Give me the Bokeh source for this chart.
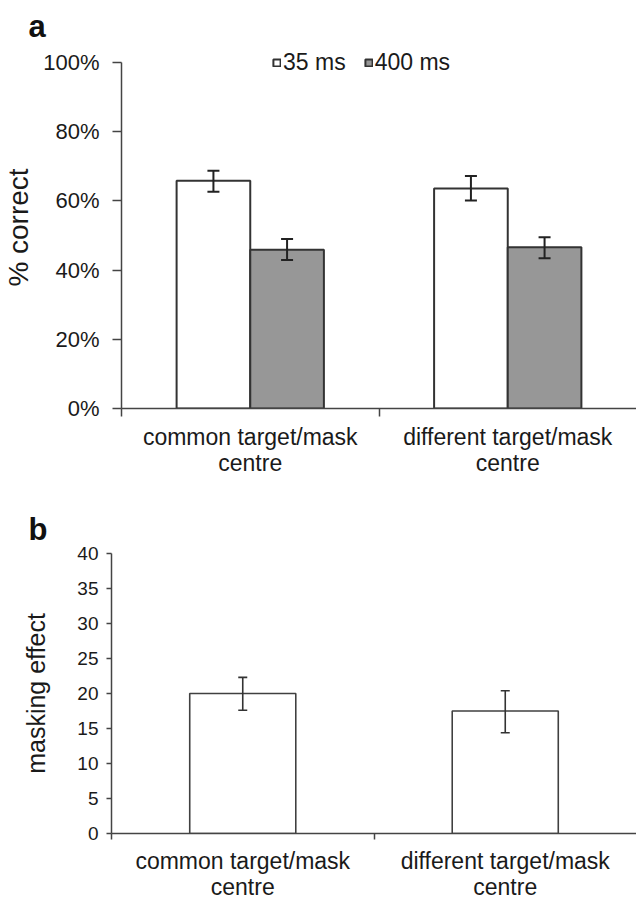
from bokeh.plotting import figure
from bokeh.models import (Range1d, FixedTicker, PrintfTickFormatter, Whisker, TeeHead,
                          ColumnDataSource, LinearAxis)
from bokeh.embed import file_html
from bokeh.resources import INLINE

# ---------------- data ----------------
categories = ["common target/mask\ncentre", "different target/mask\ncentre"]
series = ["35 ms", "400 ms"]

pct_35 = [65.8, 63.6]
pct_35_lo = [62.6, 60.1]
pct_35_hi = [68.7, 67.2]
pct_400 = [45.9, 46.6]
pct_400_lo = [42.9, 43.4]
pct_400_hi = [49.0, 49.5]
pct_ticks = [0, 20, 40, 60, 80, 100]

mask_effect = [20.0, 17.5]
mask_lo = [17.6, 14.4]
mask_hi = [22.3, 20.4]
mask_ticks = [0, 5, 10, 15, 20, 25, 30, 35, 40]

FONT = "Liberation Sans"
AX = "#444444"
EDGE = "#333333"

centers = [i + 0.5 for i in range(len(categories))]
bounds = [float(i) for i in range(len(categories))]
overrides = {c: lab for c, lab in zip(centers, categories)}


def style_x(ax, tick_out, label_size, standoff):
    ax.axis_line_color = AX
    ax.axis_line_width = 1.5
    ax.major_tick_line_color = None
    ax.major_tick_out = 0
    ax.major_tick_in = 0
    ax.minor_tick_line_color = AX
    ax.minor_tick_line_width = 1.5
    ax.minor_tick_out = tick_out
    ax.minor_tick_in = 0
    ax.major_label_text_font = FONT
    ax.major_label_text_font_size = label_size
    ax.major_label_text_line_height = 1.0
    ax.major_label_text_color = "#1a1a1a"
    ax.major_label_standoff = standoff


def style_y(ax, tick_out, tick_size, label_size, tick_standoff, label_standoff):
    ax.axis_line_color = AX
    ax.axis_line_width = 1.5
    ax.major_tick_line_color = AX
    ax.major_tick_line_width = 1.5
    ax.major_tick_out = tick_out
    ax.major_tick_in = 0
    ax.minor_tick_line_color = None
    ax.major_label_text_font = FONT
    ax.major_label_text_font_size = tick_size
    ax.major_label_text_color = "#1a1a1a"
    ax.major_label_standoff = tick_standoff
    ax.axis_label_text_font = FONT
    ax.axis_label_text_font_size = label_size
    ax.axis_label_text_font_style = "normal"
    ax.axis_label_text_color = "#1a1a1a"
    ax.axis_label_standoff = label_standoff


def style_title(p, text, offset, standoff):
    p.title.text = text
    p.title.align = "left"
    p.title.offset = offset
    p.title.standoff = standoff
    p.title.text_font = FONT
    p.title.text_font_size = "31px"
    p.title.text_font_style = "bold"
    p.title.text_color = "#111111"


# ---------------- panel a ----------------
pa = figure(width=636, height=478, x_range=Range1d(0, 2), y_range=Range1d(0, 104.6),
            output_backend="svg", toolbar_location=None, x_axis_type=None, y_axis_type=None,
            min_border_left=121, min_border_right=0, min_border_top=46, min_border_bottom=67)
pa.outline_line_color = None
pa.xgrid.visible = False
pa.ygrid.visible = False
style_title(pa, "a", -93, 6)

bw = 0.286
src_a = ColumnDataSource(dict(
    x35=[c - bw / 2 for c in centers], x400=[c + bw / 2 for c in centers],
    v35=pct_35, lo35=pct_35_lo, hi35=pct_35_hi,
    v400=pct_400, lo400=pct_400_lo, hi400=pct_400_hi))

pa.vbar(x="x35", top="v35", bottom=0, width=bw, source=src_a, fill_color="white",
        line_color=EDGE, line_width=2, legend_label=series[0])
pa.vbar(x="x400", top="v400", bottom=0, width=bw, source=src_a, fill_color="#979797",
        line_color=EDGE, line_width=2, legend_label=series[1])

for b, lo, hi in (("x35", "lo35", "hi35"), ("x400", "lo400", "hi400")):
    pa.add_layout(Whisker(source=src_a, base=b, lower=lo, upper=hi, line_color="#222222",
                          line_width=2, level="overlay",
                          upper_head=TeeHead(size=12, line_color="#222222", line_width=2),
                          lower_head=TeeHead(size=12, line_color="#222222", line_width=2)))

ya = LinearAxis(ticker=FixedTicker(ticks=pct_ticks), formatter=PrintfTickFormatter(format="%d%%"),
                axis_label="% correct", bounds=(0, 100))
style_y(ya, 9, "22px", "28px", 13, 6)
pa.add_layout(ya, "left")

xa = LinearAxis(ticker=FixedTicker(ticks=centers, minor_ticks=bounds), major_label_overrides=overrides)
style_x(xa, 8, "23px", 7)
pa.add_layout(xa, "below")

lg = pa.legend[0]
lg.orientation = "horizontal"
lg.location = (151, 332)
lg.border_line_color = None
lg.background_fill_alpha = 0
lg.padding = 0
lg.margin = 0
lg.spacing = 18
lg.label_standoff = 2
lg.glyph_width = 9
lg.glyph_height = 9
lg.label_text_font = FONT
lg.label_text_font_size = "23px"
lg.label_text_color = "#1a1a1a"

# ---------------- panel b ----------------
pb = figure(width=636, height=424, x_range=Range1d(0, 2), y_range=Range1d(0, 40),
            output_backend="svg", toolbar_location=None, x_axis_type=None, y_axis_type=None,
            min_border_left=111, min_border_right=0, min_border_top=75, min_border_bottom=63)
pb.outline_line_color = None
pb.xgrid.visible = False
pb.ygrid.visible = False
style_title(pb, "b", -83, 14)

bw_b = 0.404
src_b = ColumnDataSource(dict(x=centers, v=mask_effect, lo=mask_lo, hi=mask_hi))
pb.vbar(x="x", top="v", bottom=0, width=bw_b, source=src_b, fill_color="white",
        line_color="#404040", line_width=1.6)
pb.add_layout(Whisker(source=src_b, base="x", lower="lo", upper="hi", line_color="#333333",
                      line_width=1.6, level="overlay",
                      upper_head=TeeHead(size=9, line_color="#333333", line_width=1.6),
                      lower_head=TeeHead(size=9, line_color="#333333", line_width=1.6)))

yb = LinearAxis(ticker=FixedTicker(ticks=mask_ticks), axis_label="masking effect")
style_y(yb, 5, "19px", "25px", 8, 24)
pb.add_layout(yb, "left")

xb = LinearAxis(ticker=FixedTicker(ticks=centers, minor_ticks=bounds), major_label_overrides=overrides)
style_x(xb, 6, "23px", 8)
pb.add_layout(xb, "below")

open("out.html", "w").write(file_html([pa, pb], INLINE))
